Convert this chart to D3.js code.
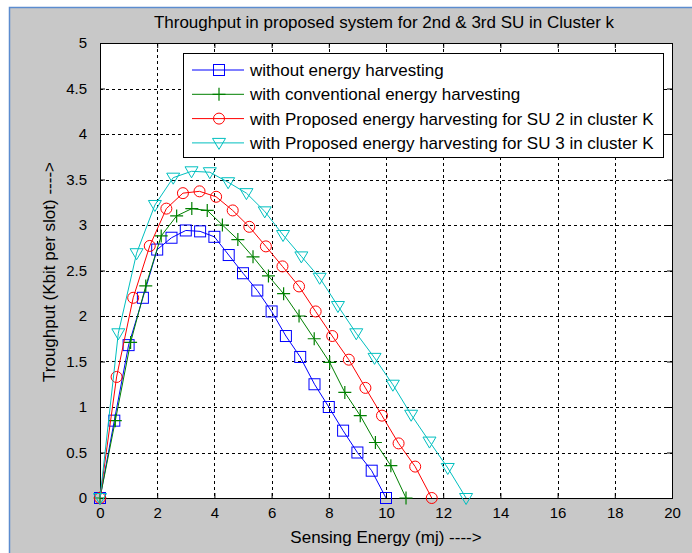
<!DOCTYPE html>
<html>
<head>
<meta charset="utf-8">
<script src="https://cdn.jsdelivr.net/npm/d3@7"></script>
<style>
  body { margin: 0; background: #fff; }
  svg { display: block; font-family: "Liberation Sans", Arial, sans-serif; }
</style>
</head>
<body>
<div id="graph"></div>
<script>
// data
const xBlue = [0, 0.5, 1, 1.5, 2, 2.5, 3, 3.5, 4, 4.5, 5, 5.5, 6, 6.5, 7, 7.5, 8, 8.5, 9, 9.5, 10];
const yBlue = [0, 0.85, 1.68, 2.2, 2.73, 2.86, 2.94, 2.93, 2.87, 2.67, 2.47, 2.28, 2.05, 1.78, 1.55, 1.25, 1.0, 0.74, 0.5, 0.3, 0];

const xGreen = [0, 0.535, 1.07, 1.6, 2.14, 2.68, 3.21, 3.75, 4.28, 4.82, 5.35, 5.89, 6.42, 6.96, 7.49, 8.03, 8.56, 9.1, 9.63, 10.17, 10.7];
const yGreen = [0, 0.85, 1.71, 2.33, 2.88, 3.1, 3.18, 3.16, 3.0, 2.84, 2.65, 2.44, 2.245, 2.0, 1.75, 1.49, 1.16, 0.905, 0.61, 0.355, 0];

const xRed = [0, 0.58, 1.16, 1.74, 2.32, 2.9, 3.48, 4.06, 4.64, 5.22, 5.8, 6.38, 6.96, 7.54, 8.12, 8.7, 9.28, 9.86, 10.44, 11.02, 11.6];
const yRed = [0, 1.33, 2.2, 2.77, 3.18, 3.35, 3.37, 3.31, 3.16, 2.98, 2.765, 2.545, 2.325, 2.05, 1.78, 1.52, 1.21, 0.905, 0.6, 0.345, 0];

const xCyan = [0, 0.64, 1.28, 1.92, 2.56, 3.2, 3.84, 4.48, 5.12, 5.76, 6.4, 7.04, 7.68, 8.32, 8.96, 9.6, 10.24, 10.88, 11.52, 12.16, 12.8];
const yCyan = [0, 1.81, 2.69, 3.22, 3.52, 3.59, 3.58, 3.47, 3.35, 3.15, 2.89, 2.655, 2.42, 2.11, 1.81, 1.54, 1.245, 0.915, 0.62, 0.33, 0];

const seriesNames = [
  "without energy harvesting",
  "with conventional energy harvesting",
  "with Proposed energy harvesting for SU 2 in cluster K",
  "with Proposed energy harvesting for SU 3 in cluster K"
];
const xTicks = [0, 2, 4, 6, 8, 10, 12, 14, 16, 18, 20];
const yTicks = [0, 0.5, 1, 1.5, 2, 2.5, 3, 3.5, 4, 4.5, 5];

const W = 692, H = 553;
const pLeft = 100, pRight = 672, pTop = 43, pBottom = 498;

const series = [
  { name: seriesNames[0], xs: xBlue, ys: yBlue, color: "#0000ff", marker: "square" },
  { name: seriesNames[1], xs: xGreen, ys: yGreen, color: "#008000", marker: "plus" },
  { name: seriesNames[2], xs: xRed, ys: yRed, color: "#ff0000", marker: "circle" },
  { name: seriesNames[3], xs: xCyan, ys: yCyan, color: "#00bfbf", marker: "tri" }
];

const svg = d3.select("#graph").append("svg")
  .attr("width", W)
  .attr("height", H);

// figure background with window frame
svg.append("rect")
  .attr("x", 9.5).attr("y", 7.5)
  .attr("width", W).attr("height", H)
  .attr("fill", "#c8c8c8")
  .attr("stroke", "#5b8ccf")
  .attr("stroke-width", 1.5);

const x = d3.scaleLinear().domain([0, 20]).range([pLeft, pRight]);
const y = d3.scaleLinear().domain([0, 5]).range([pBottom, pTop]);

svg.append("rect")
  .attr("x", pLeft).attr("y", pTop)
  .attr("width", pRight - pLeft).attr("height", pBottom - pTop)
  .attr("fill", "#fff");

// dotted grid
const grid = svg.append("g").attr("stroke", "#000").attr("stroke-dasharray", "3,3").attr("stroke-width", 1);
grid.selectAll(".gx").data(xTicks.slice(1, -1)).enter().append("line")
  .attr("x1", d => Math.round(x(d)) + 0.5).attr("x2", d => Math.round(x(d)) + 0.5)
  .attr("y1", pTop).attr("y2", pBottom);
grid.selectAll(".gy").data(yTicks.slice(1, -1)).enter().append("line")
  .attr("y1", d => Math.round(y(d)) + 0.5).attr("y2", d => Math.round(y(d)) + 0.5)
  .attr("x1", pLeft).attr("x2", pRight);

// axes, ticks pointing inward
const axisStyle = g => {
  g.select(".domain").remove();
  g.selectAll("text").attr("fill", "#000").style("font-size", "15px").attr("font-family", "Liberation Sans, Arial, sans-serif");
  g.selectAll("line").attr("stroke", "#000");
};
svg.append("g").attr("transform", `translate(0,${pBottom})`)
  .call(d3.axisBottom(x).tickValues(xTicks).tickFormat(d3.format("d")).tickSizeInner(-5).tickPadding(9))
  .call(axisStyle);
svg.append("g").attr("transform", `translate(0,${pTop})`)
  .call(d3.axisTop(x).tickValues(xTicks).tickFormat("").tickSizeInner(-5))
  .call(axisStyle);
svg.append("g").attr("transform", `translate(${pLeft},0)`)
  .call(d3.axisLeft(y).tickValues(yTicks).tickFormat(d => d).tickSizeInner(-5).tickPadding(13))
  .call(axisStyle);
svg.append("g").attr("transform", `translate(${pRight},0)`)
  .call(d3.axisRight(y).tickValues(yTicks).tickFormat("").tickSizeInner(-5))
  .call(axisStyle);

svg.append("rect")
  .attr("x", pLeft + 0.5).attr("y", pTop + 0.5)
  .attr("width", pRight - pLeft).attr("height", pBottom - pTop)
  .attr("fill", "none").attr("stroke", "#000");

function drawMarker(g, type, color) {
  if (type === "square") {
    g.append("rect").attr("x", -5.5).attr("y", -5.5).attr("width", 11).attr("height", 11)
      .attr("fill", "none").attr("stroke", color);
  } else if (type === "circle") {
    g.append("circle").attr("r", 5.5).attr("fill", "none").attr("stroke", color);
  } else if (type === "plus") {
    g.append("path").attr("d", "M-6.5,0H6.5M0,-6.5V6.5").attr("fill", "none").attr("stroke", color).attr("stroke-width", 1.2);
  } else if (type === "tri") {
    g.append("path").attr("d", "M-6.5,-4.5L6.5,-4.5L0,6.5Z").attr("fill", "none").attr("stroke", color);
  }
}

const line = d3.line().x(d => x(d[0])).y(d => y(d[1]));

series.forEach(s => {
  const pts = s.xs.map((v, i) => [v, s.ys[i]]);
  const g = svg.append("g");
  g.append("path").datum(pts)
    .attr("d", line)
    .attr("fill", "none")
    .attr("stroke", s.color)
    .attr("stroke-width", 1);
  g.selectAll("g.m").data(pts).enter().append("g")
    .attr("transform", d => `translate(${x(d[0])},${y(d[1])})`)
    .each(function () { drawMarker(d3.select(this), s.marker, s.color); });
});

// legend
const leg = svg.append("g");
leg.append("rect")
  .attr("x", 183.5).attr("y", 53.5).attr("width", 480).attr("height", 104)
  .attr("fill", "#fff").attr("stroke", "#000");
series.forEach((s, i) => {
  const ly = 70 + i * 24.3;
  leg.append("line").attr("x1", 192).attr("x2", 244).attr("y1", ly).attr("y2", ly)
    .attr("stroke", s.color);
  const mg = leg.append("g").attr("transform", `translate(219,${ly})`);
  drawMarker(mg, s.marker, s.color);
  leg.append("text").attr("x", 250).attr("y", ly + 6)
    .style("font-size", "17px").text(s.name);
});

// titles
svg.append("text").attr("x", 384).attr("y", 28).attr("text-anchor", "middle")
  .style("font-size", "17px").text("Throughput in proposed system for 2nd & 3rd SU in Cluster k");
svg.append("text").attr("x", 386).attr("y", 543).attr("text-anchor", "middle")
  .style("font-size", "17px").text("Sensing Energy (mj) ---->");
svg.append("text").attr("transform", "translate(55,272) rotate(-90)").attr("text-anchor", "middle")
  .style("font-size", "17px").text("Troughput (Kbit per slot) ---->");
</script>
</body>
</html>
